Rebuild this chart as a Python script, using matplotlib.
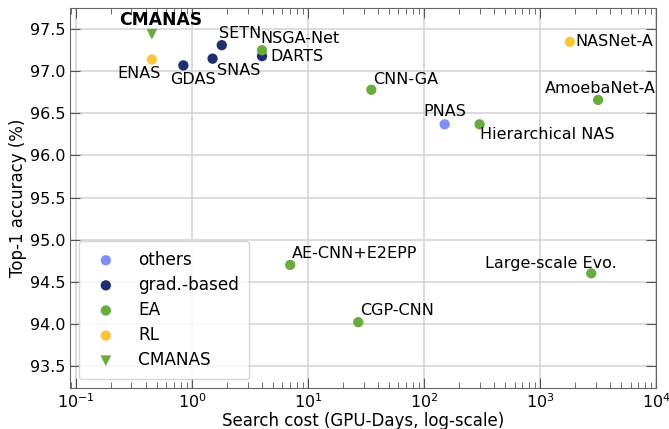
import matplotlib.pyplot as plt

# search cost (GPU days) and top-1 accuracy
names = ['ENAS', 'GDAS', 'SNAS', 'SETN', 'DARTS', 'NSGA-Net', 'CNN-GA', 'PNAS',
         'Hierarchical NAS', 'NASNet-A', 'AmoebaNet-A', 'AE-CNN+E2EPP', 'CGP-CNN',
         'Large-scale Evo.']
cost = [0.45, 0.84, 1.5, 1.8, 4.0, 4.0, 35, 150, 300, 1800, 3150, 7, 27, 2750]
acc = [97.14, 97.07, 97.15, 97.31, 97.18, 97.25, 96.78, 96.37, 96.37, 97.35,
       96.66, 94.70, 94.02, 94.60]
group = ['RL', 'grad.-based', 'grad.-based', 'grad.-based', 'grad.-based', 'EA',
         'EA', 'others', 'EA', 'RL', 'EA', 'EA', 'EA', 'EA']
cmanas_cost = 0.45
cmanas_acc = 97.44

colors = {'others': '#7f8ff5', 'grad.-based': '#1f2e6e', 'EA': '#6aab3e', 'RL': '#fbc43d'}

# label offsets in points and alignment
offsets = {
    'ENAS': ((-9, -5), 'center', 'top'),
    'GDAS': ((7, -5), 'center', 'top'),
    'SNAS': ((3, -3), 'left', 'top'),
    'SETN': ((-2, 3), 'left', 'bottom'),
    'DARTS': ((6, 0), 'left', 'center'),
    'NSGA-Net': ((-1, 3), 'left', 'bottom'),
    'CNN-GA': ((1, 2), 'left', 'bottom'),
    'PNAS': ((0, 4), 'center', 'bottom'),
    'Hierarchical NAS': ((0, -2), 'left', 'top'),
    'NASNet-A': ((4, 0), 'left', 'center'),
    'AmoebaNet-A': ((2, 3), 'center', 'bottom'),
    'AE-CNN+E2EPP': ((1, 3), 'left', 'bottom'),
    'CGP-CNN': ((1, 3), 'left', 'bottom'),
    'Large-scale Evo.': ((-29, 2), 'center', 'bottom'),
}

fig, ax = plt.subplots(figsize=(6.69, 4.29), dpi=100)

for g in ['others', 'grad.-based', 'EA', 'RL']:
    xs = [c for c, gg in zip(cost, group) if gg == g]
    ys = [a for a, gg in zip(acc, group) if gg == g]
    ax.scatter(xs, ys, s=55, color=colors[g], label=g, zorder=3, edgecolors='none')
ax.scatter([cmanas_cost], [cmanas_acc], marker='v', s=60, color=colors['EA'],
           label='CMANAS', zorder=3, edgecolors='none')

for n, c, a in zip(names, cost, acc):
    off, ha, va = offsets[n]
    ax.annotate(n, xy=(c, a), xytext=off, textcoords='offset points',
                ha=ha, va=va, fontsize=11.5)
ax.annotate('CMANAS', xy=(cmanas_cost, cmanas_acc), xytext=(6, 4),
            textcoords='offset points', ha='center', va='bottom',
            fontsize=12.3, fontweight='bold')

ax.set_xscale('log')
ax.set_xlim(0.089, 1e4)
ax.set_ylim(93.24, 97.75)
ax.set_yticks([93.5, 94.0, 94.5, 95.0, 95.5, 96.0, 96.5, 97.0, 97.5])
ax.grid(True, which='major', color='#d5d5d5', linewidth=1.2, zorder=0)
ax.set_axisbelow(True)
ax.tick_params(which='both', direction='in', top=True, right=True, labelsize=11.5,
               color='#555555')
ax.tick_params(axis='x', pad=3)
ax.tick_params(which='major', length=7)
ax.tick_params(which='minor', length=4)
for sp in ax.spines.values():
    sp.set_color('#666666')

ax.set_xlabel('Search cost (GPU-Days, log-scale)', fontsize=12, labelpad=1)
ax.set_ylabel('Top-1 accuracy (%)', fontsize=12, labelpad=2)

ax.legend(loc='lower left', fontsize=12.2, handletextpad=0.9, borderpad=0.6,
          labelspacing=0.42, markerscale=1.0)

plt.subplots_adjust(left=0.105, right=0.981, top=0.981, bottom=0.096)
plt.savefig('out.png')
